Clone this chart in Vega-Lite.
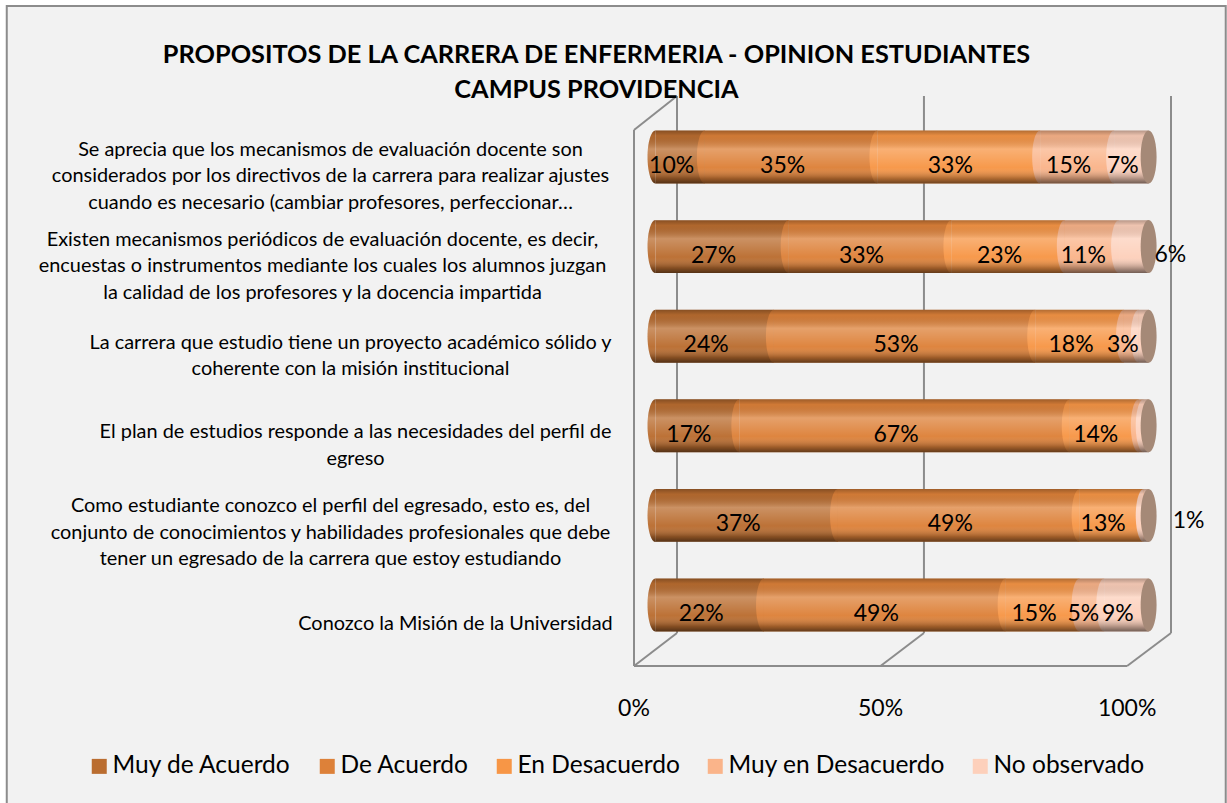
{
"$schema":"https://vega.github.io/schema/vega-lite/v6.json",
"autosize":{"type":"none"},
"padding":{"left":634,"top":96,"right":56,"bottom":137},
"width":537,"height":570,
"background":"#ffffff",
"config":{"view":{"stroke":null},"font":"Lato"},
"title":{"text":["PROPOSITOS DE LA CARRERA DE ENFERMERIA - OPINION ESTUDIANTES","CAMPUS PROVIDENCIA"],"font":"Lato","fontSize":25.3,"fontWeight":"bold","color":"#000000","anchor":"middle","dx":-306,"dy":90,"offset":-8,"lineHeight":35},
"datasets":{
"preguntas":[
{"fila":1,"pregunta":"Se aprecia que los mecanismos de evaluación docente son|considerados por los directivos de la carrera para realizar ajustes|cuando es necesario (cambiar profesores, perfeccionar…"},
{"fila":2,"pregunta":"Existen mecanismos periódicos de evaluación docente, es decir,|encuestas o instrumentos mediante los cuales los alumnos juzgan|la calidad de los profesores y la docencia impartida"},
{"fila":3,"pregunta":"La carrera que estudio tiene un proyecto académico sólido y|coherente con la misión institucional"},
{"fila":4,"pregunta":"El plan de estudios responde a las necesidades del perfil de|egreso"},
{"fila":5,"pregunta":"Como estudiante conozco el perfil del egresado, esto es, del|conjunto de conocimientos y habilidades profesionales que debe|tener un egresado de la carrera que estoy estudiando"},
{"fila":6,"pregunta":"Conozco la Misión de la Universidad"}
],
"respuestas":[
{"fila":1,"orden":1,"serie":"Muy de Acuerdo","pct":10,"etiqueta":"10%"},
{"fila":1,"orden":2,"serie":"De Acuerdo","pct":35,"etiqueta":"35%"},
{"fila":1,"orden":3,"serie":"En Desacuerdo","pct":33,"etiqueta":"33%"},
{"fila":1,"orden":4,"serie":"Muy en Desacuerdo","pct":15,"etiqueta":"15%"},
{"fila":1,"orden":5,"serie":"No observado","pct":7,"etiqueta":"7%"},
{"fila":2,"orden":1,"serie":"Muy de Acuerdo","pct":27,"etiqueta":"27%"},
{"fila":2,"orden":2,"serie":"De Acuerdo","pct":33,"etiqueta":"33%"},
{"fila":2,"orden":3,"serie":"En Desacuerdo","pct":23,"etiqueta":"23%"},
{"fila":2,"orden":4,"serie":"Muy en Desacuerdo","pct":11,"etiqueta":"11%"},
{"fila":2,"orden":5,"serie":"No observado","pct":6,"etiqueta":"6%"},
{"fila":3,"orden":1,"serie":"Muy de Acuerdo","pct":24,"etiqueta":"24%"},
{"fila":3,"orden":2,"serie":"De Acuerdo","pct":53,"etiqueta":"53%"},
{"fila":3,"orden":3,"serie":"En Desacuerdo","pct":18,"etiqueta":"18%"},
{"fila":3,"orden":4,"serie":"Muy en Desacuerdo","pct":3,"etiqueta":"3%"},
{"fila":3,"orden":5,"serie":"No observado","pct":2,"etiqueta":""},
{"fila":4,"orden":1,"serie":"Muy de Acuerdo","pct":17,"etiqueta":"17%"},
{"fila":4,"orden":2,"serie":"De Acuerdo","pct":67,"etiqueta":"67%"},
{"fila":4,"orden":3,"serie":"En Desacuerdo","pct":14,"etiqueta":"14%"},
{"fila":4,"orden":4,"serie":"Muy en Desacuerdo","pct":1,"etiqueta":""},
{"fila":4,"orden":5,"serie":"No observado","pct":1,"etiqueta":""},
{"fila":5,"orden":1,"serie":"Muy de Acuerdo","pct":37,"etiqueta":"37%"},
{"fila":5,"orden":2,"serie":"De Acuerdo","pct":49,"etiqueta":"49%"},
{"fila":5,"orden":3,"serie":"En Desacuerdo","pct":13,"etiqueta":"13%"},
{"fila":5,"orden":5,"serie":"No observado","pct":1,"etiqueta":"1%"},
{"fila":6,"orden":1,"serie":"Muy de Acuerdo","pct":22,"etiqueta":"22%"},
{"fila":6,"orden":2,"serie":"De Acuerdo","pct":49,"etiqueta":"49%"},
{"fila":6,"orden":3,"serie":"En Desacuerdo","pct":15,"etiqueta":"15%"},
{"fila":6,"orden":4,"serie":"Muy en Desacuerdo","pct":5,"etiqueta":"5%"},
{"fila":6,"orden":5,"serie":"No observado","pct":9,"etiqueta":"9%"}
]
},
"resolve":{"scale":{"y":"independent"},"axis":{"y":"independent"}},
"layer":[
{
"layer":[
{"data":{"values":[{"x":-127.2,"x2":120,"y":-140,"y2":660}]},
"mark":{"type":"rect","fill":"#f2f2f2","stroke":"#8c8c8c","strokeWidth":2},
"encoding":{"x":{"field":"x","type":"quantitative","scale":{"domain":[0,108.9],"nice":false,"zero":false},"axis":null},"x2":{"field":"x2"},
"y":{"field":"y","type":"quantitative","scale":{"domain":[0,570],"nice":false,"zero":false},"axis":null},"y2":{"field":"y2"}}},
{"data":{"values":[
{"x":0,"x2":0,"y":0,"y2":536},{"x":0,"x2":8.72,"y":536,"y2":570},{"x":0,"x2":100,"y":0,"y2":0},
{"x":0,"x2":8.72,"y":0,"y2":33},{"x":50,"x2":58.8,"y":0,"y2":33},{"x":100,"x2":108.9,"y":0,"y2":33},
{"x":8.72,"x2":8.72,"y":33,"y2":570},{"x":58.8,"x2":58.8,"y":33,"y2":570},{"x":108.9,"x2":108.9,"y":33,"y2":570}
]},
"mark":{"type":"rule","color":"#8c8c8c","strokeWidth":2},
"encoding":{"x":{"field":"x","type":"quantitative","scale":{"domain":[0,108.9],"nice":false,"zero":false},"axis":null},"x2":{"field":"x2"},
"y":{"field":"y","type":"quantitative","scale":{"domain":[0,570],"nice":false,"zero":false},"axis":null},"y2":{"field":"y2"}}},
{"data":{"values":[{"valor":0,"texto":"0%","y":-43},{"valor":50,"texto":"50%","y":-43},{"valor":100,"texto":"100%","y":-43}]},
"mark":{"type":"text","font":"Lato","fontSize":23,"color":"#000000"},
"encoding":{"x":{"field":"valor","type":"quantitative","scale":{"domain":[0,108.9],"nice":false,"zero":false},"axis":null},
"y":{"field":"y","type":"quantitative","scale":{"domain":[0,570],"nice":false,"zero":false},"axis":null},"text":{"field":"texto"}}}
]
},
{
"data":{"name":"respuestas"},
"transform":[
{"lookup":"fila","from":{"data":{"name":"preguntas"},"key":"fila","fields":["pregunta"]}},
{"stack":"pct","groupby":["fila"],"sort":[{"field":"orden","order":"ascending"}],"as":["inicio","fin"]},
{"calculate":"(datum.inicio+datum.fin)/2","as":"medio"}
],
"encoding":{"y":{"field":"pregunta","type":"nominal","sort":{"field":"fila","op":"min"},"scale":{"paddingInner":0.41,"paddingOuter":0.385},
"axis":{"zindex":1,"title":null,"domain":false,"ticks":false,"grid":false,"labelExpr":"split(datum.label,'|')","labelFont":"Lato","labelFontSize":19.9,"labelColor":"#000000","labelLimit":0,"labelLineHeight":26.5,"labelBaseline":"middle","labelAlign":"center","labelOverlap":false,
"labelPadding":{"condition":[{"test":"indexof(datum.value,'Se ap')==0","value":304},{"test":"indexof(datum.value,'Existen')==0","value":312},{"test":"indexof(datum.value,'La car')==0","value":284},{"test":"indexof(datum.value,'El plan')==0","value":279},{"test":"indexof(datum.value,'Como')==0","value":304}],"value":179},
"labelOffset":{"condition":[{"test":"indexof(datum.value,'Se ap')==0","value":-7},{"test":"indexof(datum.value,'Existen')==0","value":-7},{"test":"indexof(datum.value,'La car')==0","value":6.5},{"test":"indexof(datum.value,'El plan')==0","value":6.5},{"test":"indexof(datum.value,'Como')==0","value":-9}],"value":19}}}},
"layer":[
{"mark":{"type":"bar","xOffset":21.5,"x2Offset":21.5,"cornerRadius":0},
"encoding":{"x":{"field":"inicio","type":"quantitative","scale":{"domain":[0,108.9],"nice":false,"zero":false},"axis":null},"x2":{"field":"fin"},
"color":{"field":"serie","type":"nominal","scale":{"domain":["Muy de Acuerdo","De Acuerdo","En Desacuerdo","Muy en Desacuerdo","No observado"],"range":["#ba6d30","#dd8139","#f79646","#fab48a","#fdd0bb"]},
"legend":{"orient":"none","legendX":-547,"legendY":658,"direction":"horizontal","columns":5,"title":null,"symbolType":"square","symbolSize":225,"symbolStrokeWidth":0,"symbolOpacity":1,"labelFont":"Lato","labelFontSize":24.5,"labelColor":"#000000","columnPadding":23,"labelOffset":1,"labelLimit":0}}}},
{"mark":{"type":"point","filled":true,"opacity":1,"xOffset":21.5,"size":2809,"shape":"M0,-1 A0.3,1 0 0 0 0,1 Z","strokeWidth":0},
"encoding":{"x":{"field":"inicio","type":"quantitative","scale":{"domain":[0,108.9],"nice":false,"zero":false},"axis":null},
"color":{"field":"serie","type":"nominal","scale":{"domain":["Muy de Acuerdo","De Acuerdo","En Desacuerdo","Muy en Desacuerdo","No observado"],"range":["#ba6d30","#dd8139","#f79646","#fab48a","#fdd0bb"]},"legend":null}}},
{"transform":[{"filter":"datum.orden==1"}],
"mark":{"type":"bar","xOffset":21.5,"x2Offset":21.5,"fill":{"gradient":"linear","x1":0,"y1":0,"x2":0,"y2":1,"stops":[{"offset":0,"color":"rgba(0,0,0,0.28)"},{"offset":0.1,"color":"rgba(0,0,0,0.06)"},{"offset":0.35,"color":"rgba(255,255,255,0.25)"},{"offset":0.7,"color":"rgba(255,255,255,0.03)"},{"offset":0.9,"color":"rgba(0,0,0,0.28)"},{"offset":1,"color":"rgba(0,0,0,0.55)"}]}},
"encoding":{"x":{"datum":0,"type":"quantitative","scale":{"domain":[0,108.9],"nice":false,"zero":false},"axis":null},"x2":{"datum":100}}},
{"transform":[{"filter":"datum.orden==1"}],
"mark":{"type":"point","filled":true,"opacity":1,"xOffset":21.5,"size":2809,"shape":"M0,-1 A0.3,1 0 0 0 0,1 Z","strokeWidth":0,"fill":{"gradient":"linear","x1":0,"y1":0,"x2":0,"y2":1,"stops":[{"offset":0,"color":"rgba(0,0,0,0.28)"},{"offset":0.1,"color":"rgba(0,0,0,0.06)"},{"offset":0.35,"color":"rgba(255,255,255,0.25)"},{"offset":0.7,"color":"rgba(255,255,255,0.03)"},{"offset":0.9,"color":"rgba(0,0,0,0.28)"},{"offset":1,"color":"rgba(0,0,0,0.55)"}]}},
"encoding":{"x":{"datum":0,"type":"quantitative","scale":{"domain":[0,108.9],"nice":false,"zero":false},"axis":null}}},
{"transform":[{"filter":"datum.orden==1"}],
"mark":{"type":"point","filled":true,"opacity":1,"xOffset":21.5,"size":2809,"shape":"M0,-1 A0.3,1 0 1 0 0,1 A0.3,1 0 1 0 0,-1 Z","strokeWidth":0,"fill":"#a58977"},
"encoding":{"x":{"datum":100,"type":"quantitative","scale":{"domain":[0,108.9],"nice":false,"zero":false},"axis":null}}},
{"transform":[{"filter":"datum.etiqueta!='' && !(datum.fila==2 && datum.orden==5) && !(datum.fila==5 && datum.orden==5)"}],
"mark":{"type":"text","font":"Lato","fontSize":23,"color":"#000000","xOffset":13,"yOffset":9},
"encoding":{"x":{"field":"medio","type":"quantitative","scale":{"domain":[0,108.9],"nice":false,"zero":false},"axis":null},"text":{"field":"etiqueta"}}},
{"transform":[{"filter":"datum.fila==2 && datum.orden==5"}],
"mark":{"type":"text","font":"Lato","fontSize":23,"color":"#000000","xOffset":58,"yOffset":8},
"encoding":{"x":{"field":"medio","type":"quantitative","scale":{"domain":[0,108.9],"nice":false,"zero":false},"axis":null},"text":{"field":"etiqueta"}}},
{"transform":[{"filter":"datum.fila==5 && datum.orden==5"}],
"mark":{"type":"text","font":"Lato","fontSize":23,"color":"#000000","xOffset":64,"yOffset":6},
"encoding":{"x":{"field":"medio","type":"quantitative","scale":{"domain":[0,108.9],"nice":false,"zero":false},"axis":null},"text":{"field":"etiqueta"}}}
]
}
]
}
